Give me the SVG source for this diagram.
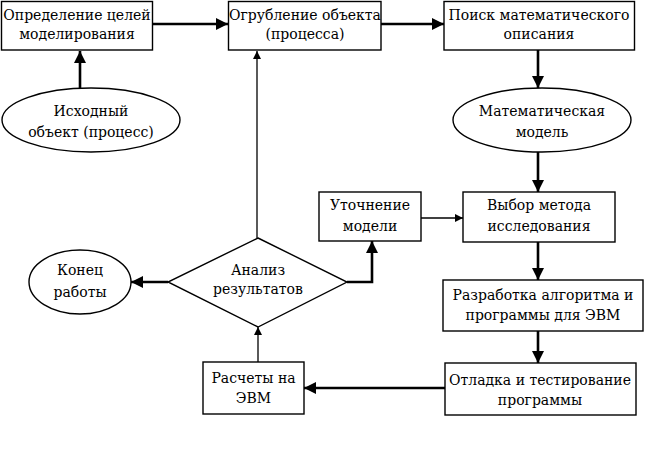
<svg xmlns="http://www.w3.org/2000/svg" width="649" height="454" viewBox="0 0 649 454">
<style>
  .box { fill: #fff; stroke: #000; stroke-width: 1.4; }
  .t { font-family: "DejaVu Serif", "Liberation Serif", serif; font-size: 14px; fill: #000; text-anchor: middle; }
  .thick { fill: none; stroke: #000; stroke-width: 2.6; }
  .thin { fill: none; stroke: #000; stroke-width: 1.3; }
</style>
<defs>
  <marker id="ah" markerUnits="userSpaceOnUse" markerWidth="12" markerHeight="12" viewBox="0 0 10 10" refX="10" refY="5" orient="auto">
    <path d="M0,0 L10,5 L0,10 Z" fill="#000"/>
  </marker>
  <marker id="ahs" markerUnits="userSpaceOnUse" markerWidth="9" markerHeight="8" viewBox="0 0 10 10" refX="10" refY="5" orient="auto">
    <path d="M0,0 L10,5 L0,10 Z" fill="#000"/>
  </marker>
</defs>
<rect width="649" height="454" fill="#fff"/>

<g id="connectors">
  <path class="thick" d="M152,24 H228" marker-end="url(#ah)"/>
  <path class="thick" d="M381,24 H444" marker-end="url(#ah)"/>
  <path class="thick" d="M80,88 V51" marker-end="url(#ah)"/>
  <path class="thin" d="M257,238 V51" marker-end="url(#ahs)"/>
  <path class="thick" d="M538,50 V88" marker-end="url(#ah)"/>
  <path class="thick" d="M538,152 V192" marker-end="url(#ah)"/>
  <path class="thin" d="M421,218 H463" marker-end="url(#ahs)"/>
  <path class="thick" d="M347,282 H372 V241" marker-end="url(#ah)"/>
  <path class="thick" d="M168,282 H131" marker-end="url(#ah)"/>
  <path class="thick" d="M538,242 V280" marker-end="url(#ah)"/>
  <path class="thick" d="M538,331 V363" marker-end="url(#ah)"/>
  <path class="thick" d="M445,388 H304" marker-end="url(#ah)"/>
  <path class="thin" d="M258,362 V327" marker-end="url(#ahs)"/>
</g>

<g id="goals">
  <rect class="box" x="1.5" y="1.5" width="151" height="48.5"/>
  <text class="t" x="77" y="20">Определение целей</text>
  <text class="t" x="77" y="39">моделирования</text>
</g>
<g id="coarsen">
  <rect class="box" x="228.5" y="1.5" width="152.5" height="48.5"/>
  <text class="t" x="305" y="20">Огрубление объекта</text>
  <text class="t" x="305" y="39">(процесса)</text>
</g>
<g id="search">
  <rect class="box" x="444" y="1.5" width="190.5" height="48.5"/>
  <text class="t" x="539" y="20">Поиск математического</text>
  <text class="t" x="539" y="39">описания</text>
</g>
<g id="source">
  <ellipse class="box" cx="91" cy="120" rx="89" ry="32"/>
  <text class="t" x="91" y="116">Исходный</text>
  <text class="t" x="91" y="137">объект (процесс)</text>
</g>
<g id="model">
  <ellipse class="box" cx="542" cy="120" rx="89" ry="32"/>
  <text class="t" x="542" y="116">Математическая</text>
  <text class="t" x="542" y="137">модель</text>
</g>
<g id="refine">
  <rect class="box" x="319" y="192" width="102" height="49"/>
  <text class="t" x="370" y="210">Уточнение</text>
  <text class="t" x="370" y="231">модели</text>
</g>
<g id="method">
  <rect class="box" x="463" y="192" width="152" height="50"/>
  <text class="t" x="539" y="210">Выбор метода</text>
  <text class="t" x="539" y="231">исследования</text>
</g>
<g id="analysis">
  <polygon class="box" points="258,238 347,282 258,327 168,282"/>
  <text class="t" x="258" y="275">Анализ</text>
  <text class="t" x="258" y="294">результатов</text>
</g>
<g id="end">
  <ellipse class="box" cx="80" cy="282" rx="51" ry="32"/>
  <text class="t" x="80" y="275">Конец</text>
  <text class="t" x="80" y="297">работы</text>
</g>
<g id="algo">
  <rect class="box" x="443" y="280" width="200" height="51"/>
  <text class="t" x="543" y="300">Разработка алгоритма и</text>
  <text class="t" x="543" y="320">программы для ЭВМ</text>
</g>
<g id="debug">
  <rect class="box" x="445" y="363" width="191" height="52"/>
  <text class="t" x="540" y="385">Отладка и тестирование</text>
  <text class="t" x="540" y="405">программы</text>
</g>
<g id="compute">
  <rect class="box" x="203" y="362" width="101" height="52"/>
  <text class="t" x="253.5" y="383">Расчеты на</text>
  <text class="t" x="253.5" y="403">ЭВМ</text>
</g>
</svg>
